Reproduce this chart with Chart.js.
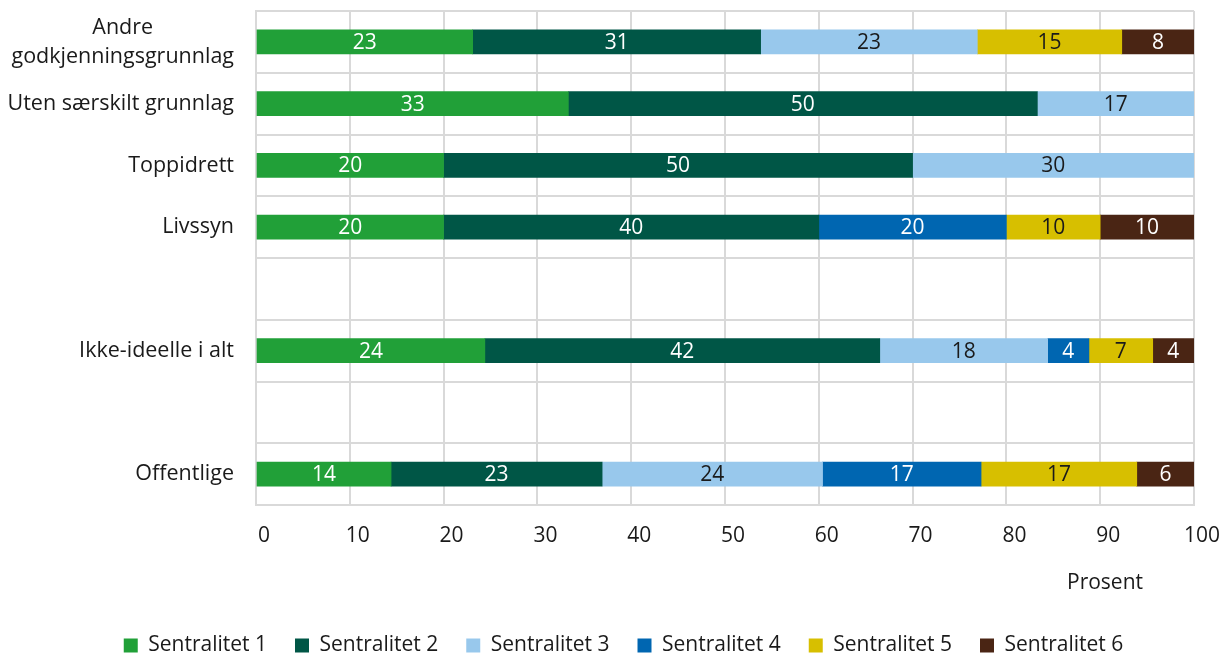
<!DOCTYPE html>
<html>
<head>
<meta charset="utf-8">
<script src="https://cdn.jsdelivr.net/npm/chart.js@4"></script>
<style>
  html, body { margin: 0; padding: 0; background: #fff; }
  #wrap { width: 1221px; height: 655px; }
</style>
</head>
<body>
<div id="wrap"><canvas id="chart"></canvas></div>
<script>
const categories = [
    ["Andre", "godkjenningsgrunnlag"],
    "Uten særskilt grunnlag",
    "Toppidrett",
    "Livssyn",
    "",
    "Ikke-ideelle i alt",
    "",
    "Offentlige"
];
const seriesNames = ["Sentralitet 1", "Sentralitet 2", "Sentralitet 3", "Sentralitet 4", "Sentralitet 5", "Sentralitet 6"];
const sentralitet1 = [23.1, 33.3, 20, 20, null, 24.4, null, 14.4];
const sentralitet2 = [30.7, 50, 50, 40, null, 42.1, null, 22.5];
const sentralitet3 = [23.1, 16.7, 30, null, null, 17.9, null, 23.5];
const sentralitet4 = [null, null, null, 20, null, 4.4, null, 16.9];
const sentralitet5 = [15.4, null, null, 10, null, 6.8, null, 16.6];
const sentralitet6 = [7.7, null, null, 10, null, 4.4, null, 6.1];
const xTicks = [0, 10, 20, 30, 40, 50, 60, 70, 80, 90, 100];

const colors = ["#21a038", "#005646", "#98c8ec", "#0066b1", "#d7bf00", "#4a2514"];
const labelColors = ["#ffffff", "#ffffff", "#1a1a1a", "#ffffff", "#1a1a1a", "#ffffff"];
const allSeries = [sentralitet1, sentralitet2, sentralitet3, sentralitet4, sentralitet5, sentralitet6];

const FONT = "'Open Sans', 'Noto Sans', sans-serif";
const TEXT = "#1a1a1a";
const GRID = "#d9d9d9";

// values inside bars (rounded like the source)
const barLabels = {
    id: "barLabels",
    afterDatasetsDraw(chart) {
        const ctx = chart.ctx;
        ctx.save();
        ctx.font = "21px " + FONT;
        ctx.textAlign = "center";
        ctx.textBaseline = "middle";
        chart.data.datasets.forEach((ds, di) => {
            const meta = chart.getDatasetMeta(di);
            meta.data.forEach((bar, i) => {
                const v = ds.data[i];
                if (v == null) return;
                ctx.fillStyle = labelColors[di];
                ctx.fillText(String(Math.round(v)), (bar.x + bar.base) / 2, bar.y + 1);
            });
        });
        ctx.restore();
    }
};

// category labels: right aligned, multi-line centred on each other
const categoryLabels = {
    id: "categoryLabels",
    afterDraw(chart) {
        const ctx = chart.ctx;
        const y = chart.scales.y;
        const right = chart.chartArea.left - 22;
        ctx.save();
        ctx.font = "21.5px " + FONT;
        ctx.fillStyle = TEXT;
        ctx.textAlign = "center";
        ctx.textBaseline = "middle";
        categories.forEach((cat, i) => {
            const lines = Array.isArray(cat) ? cat : [cat];
            const w = Math.max(...lines.map(l => ctx.measureText(l).width));
            const cy = y.getPixelForValue(i);
            const lh = 29;
            lines.forEach((l, k) => {
                ctx.fillText(l, right - w / 2, cy + (k - (lines.length - 1) / 2) * lh);
            });
        });
        ctx.font = "21px " + FONT;
        ctx.fillText("Prosent", chart.chartArea.right - 89, chart.chartArea.bottom + 78);
        ctx.restore();
    }
};

new Chart(document.getElementById("chart"), {
    type: "bar",
    data: {
        labels: categories,
        datasets: allSeries.map((d, i) => ({
            label: seriesNames[i],
            data: d,
            backgroundColor: colors[i],
            borderWidth: 0,
            barThickness: 24
        }))
    },
    options: {
        indexAxis: "y",
        responsive: true,
        maintainAspectRatio: false,
        animation: false,
        layout: { padding: { left: 53, right: 27, top: 11, bottom: -11 } },
        scales: {
            x: {
                stacked: true,
                min: 0,
                max: 100,
                afterBuildTicks: s => { s.ticks = xTicks.map(v => ({ value: v })); },
                afterFit: s => {
                    s.height = 102;
                    s.paddingLeft = 0;
                    s.paddingRight = 0;
                },
                grid: { color: GRID, lineWidth: 2, drawTicks: false },
                border: { color: GRID, width: 2 },
                ticks: {
                    color: TEXT,
                    font: { family: FONT, size: 21 },
                    padding: 18,
                    labelOffset: 8,
                    maxRotation: 0
                }
            },
            y: {
                stacked: true,
                afterFit: s => { s.width = 203; },
                grid: { color: GRID, lineWidth: 2, drawTicks: false, offset: true },
                border: { color: GRID, width: 2 },
                ticks: { display: false }
            }
        },
        plugins: {
            legend: {
                position: "bottom",
                labels: {
                    color: TEXT,
                    font: { family: FONT, size: 21 },
                    boxWidth: 14,
                    boxHeight: 14,
                    padding: 28
                }
            },
            tooltip: { enabled: false }
        }
    },
    plugins: [barLabels, categoryLabels]
});
</script>
</body>
</html>
